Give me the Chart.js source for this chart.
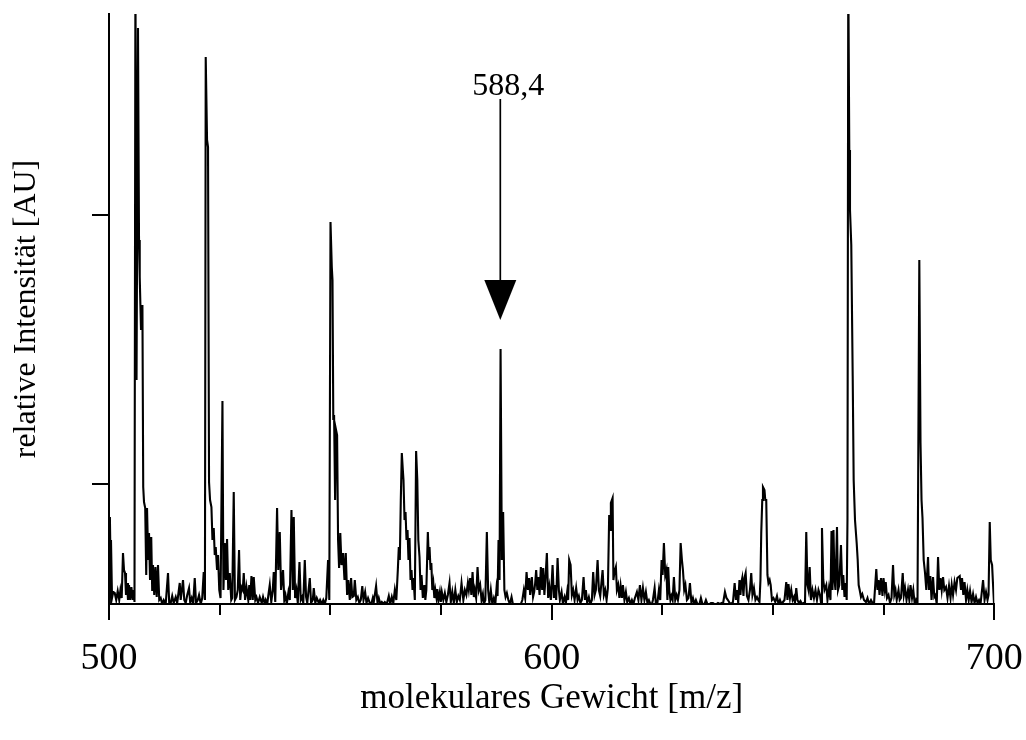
<!DOCTYPE html>
<html><head><meta charset="utf-8">
<script src="https://cdn.jsdelivr.net/npm/chart.js@4/dist/chart.umd.min.js"></script>
<style>html,body{margin:0;padding:0;background:#fff;overflow:hidden}#wrap{width:1026px;height:740px;position:relative}canvas{display:block}</style>
</head><body><div id="wrap"><canvas id="c" width="1026" height="740"></canvas></div>
<script>
// m/z values of the profile vertices
const mz = [
500.05,500.20,500.34,500.45,500.68,500.95,501.29,501.63,501.97,502.31,
502.58,502.87,503.16,503.39,503.62,503.84,504.07,504.29,504.52,504.79,
505.06,505.36,505.58,505.76,505.97,506.22,506.55,506.78,506.94,507.23,
507.55,507.73,507.91,508.18,508.41,508.59,508.86,509.04,509.27,509.54,
509.76,509.94,510.22,510.49,510.78,511.07,511.35,511.68,512.02,512.36,
512.81,513.33,513.61,513.94,514.28,514.62,515.07,515.41,515.98,516.20,
516.72,517.00,517.33,517.67,518.08,518.35,518.69,519.03,519.37,519.66,
520.05,520.34,520.72,521.06,521.40,521.67,521.85,522.15,522.37,522.60,
522.83,523.14,523.37,523.66,523.89,524.11,524.41,524.63,524.91,525.20,
525.63,525.85,526.15,526.42,526.67,526.94,527.28,527.62,527.84,528.18,
528.45,528.79,529.09,529.38,529.65,529.92,530.22,530.44,530.74,531.05,
531.46,531.69,531.91,532.18,532.48,532.70,533.04,533.31,533.67,534.06,
534.51,534.80,535.19,535.41,535.75,535.98,536.32,536.66,537.00,537.22,
537.56,537.97,538.24,538.58,538.87,539.32,539.60,539.87,540.16,540.54,
540.84,541.22,541.52,541.74,542.04,542.35,542.65,543.03,543.32,543.62,
543.89,544.23,544.52,544.79,545.36,545.65,546.04,546.26,546.60,546.94,
547.39,547.69,548.07,548.41,548.75,549.09,549.49,549.77,550.04,550.33,
550.49,550.67,550.85,551.08,551.30,551.53,551.75,551.98,552.25,552.52,
552.88,553.20,553.49,553.79,554.06,554.40,554.69,554.96,555.30,555.53,
555.87,556.21,556.55,556.88,557.22,557.49,557.86,558.17,558.53,558.92,
559.26,559.60,559.82,560.34,560.66,560.95,561.29,561.63,561.97,562.31,
562.76,563.21,563.55,563.89,564.23,564.57,564.91,565.25,565.47,565.70,
565.92,566.15,566.38,566.53,566.76,566.99,567.21,567.44,567.66,567.89,
568.12,568.34,568.57,568.79,569.09,569.38,569.65,569.88,570.15,570.38,
570.60,570.90,571.24,571.46,571.69,572.03,572.25,572.41,572.64,572.82,
573.04,573.27,573.50,573.72,573.99,574.17,574.44,574.74,574.96,575.19,
575.53,575.87,576.21,576.55,576.93,577.22,577.56,577.90,578.24,578.58,
578.92,579.26,579.64,580.05,580.39,580.73,581.07,581.29,581.59,581.86,
582.13,582.42,582.65,582.94,583.26,583.55,583.85,584.16,584.46,584.68,
585.02,585.36,585.65,585.93,586.26,586.60,586.94,587.28,587.55,587.78,
588.00,588.23,588.46,588.75,589.04,589.32,589.59,589.88,590.22,590.56,
590.94,591.24,591.69,592.14,592.59,593.04,593.38,593.72,594.02,594.33,
594.63,594.92,595.15,595.53,595.80,596.05,596.28,596.50,596.77,597.00,
597.27,597.56,597.86,598.08,598.36,598.58,598.92,599.21,599.49,599.82,
600.21,600.50,600.73,601.02,601.34,601.63,601.86,602.24,602.54,602.92,
603.21,603.51,603.73,603.96,604.28,604.57,604.86,605.18,605.54,605.86,
606.15,606.49,606.83,607.21,607.51,607.73,608.03,608.41,608.75,609.09,
609.38,609.70,609.99,610.38,610.67,610.97,611.24,611.51,611.80,612.10,
612.41,612.71,613.00,613.27,613.38,613.77,613.95,614.18,614.51,614.74,
615.03,615.31,615.58,615.87,616.10,616.44,616.77,617.07,617.45,617.79,
618.13,618.47,618.81,619.26,619.60,619.94,620.28,620.62,620.96,621.29,
621.63,621.97,622.31,622.65,622.88,623.26,623.55,623.89,624.23,624.53,
624.84,625.07,625.36,625.66,625.93,626.15,626.33,626.56,626.83,627.06,
627.33,627.62,627.92,628.23,628.53,628.87,629.14,629.43,629.66,629.95,
630.22,630.56,630.90,631.24,631.58,631.92,632.26,632.59,632.93,633.39,
633.72,634.06,634.52,634.85,635.19,635.65,635.98,636.44,636.78,637.23,
637.57,638.02,638.36,638.70,639.15,639.49,639.83,640.21,640.62,640.96,
641.34,641.63,641.86,642.15,642.43,642.65,642.88,643.06,643.33,643.56,
643.83,644.12,644.46,644.80,645.09,645.36,645.70,646.04,646.38,646.67,
646.95,647.17,647.35,647.58,647.74,648.08,648.26,648.48,648.75,648.98,
649.25,649.48,649.77,650.11,650.52,650.90,651.24,651.58,651.92,652.26,
652.60,653.00,653.27,653.50,653.84,654.13,654.45,654.74,654.97,655.26,
655.53,655.87,656.21,656.55,656.89,657.23,657.52,657.79,658.02,658.29,
658.58,658.92,659.26,659.60,659.94,660.28,660.62,660.89,661.07,661.36,
661.64,662.04,662.31,662.65,662.99,663.22,663.44,663.67,663.90,664.12,
664.46,664.69,664.98,665.36,665.66,665.88,666.16,666.43,666.65,666.83,
667.01,667.24,667.40,667.69,668.01,668.23,668.53,668.91,669.14,669.36,
669.59,669.88,670.18,670.56,671.01,671.35,671.69,672.14,672.48,672.82,
673.34,673.61,673.84,674.07,674.40,674.74,674.97,675.26,675.47,675.76,
676.10,676.44,676.78,677.12,677.41,677.68,677.95,678.36,678.63,678.92,
679.31,679.56,679.83,680.17,680.51,680.80,681.07,681.41,681.70,682.02,
682.31,682.65,683.06,683.33,683.56,683.78,684.05,684.35,684.64,685.03,
685.25,685.55,685.82,686.16,686.45,686.72,686.99,687.29,687.58,687.85,
688.12,688.42,688.71,689.09,689.43,689.77,690.11,690.38,690.68,691.02,
691.35,691.65,692.19,692.48,692.71,693.00,693.28,693.61,693.91,694.22,
694.52,694.86,695.20,695.54,695.87,696.21,696.55,696.89,697.46,697.80,
698.13,698.47,698.70,698.97,699.20,699.50,699.72,699.94
];
// relative intensity (arbitrary units) of each vertex
const intensity = [
0,87,44,64,6,12,11,4,13,4,
14,6,51,34,31,9,21,4,19,4,
17,4,14,2,634,224,576,364,327,274,
299,117,102,96,29,96,44,71,24,67,
14,39,9,37,7,39,4,6,0,4,
0,31,0,1,8,1,7,1,21,4,
24,4,1,9,16,1,6,1,26,1,
4,9,0,6,32,4,547,464,457,122,
104,97,64,76,49,57,34,49,14,6,
203,14,61,24,65,14,31,4,6,112,
4,7,14,54,4,17,14,31,4,17,
4,19,4,28,4,27,4,7,1,7,
1,7,0,4,0,8,19,2,14,32,
2,96,34,72,14,34,4,9,0,12,
4,94,14,87,6,14,1,42,4,7,
1,44,7,1,26,1,4,16,1,6,
1,4,0,4,0,6,44,4,382,337,
324,184,189,104,174,169,64,36,71,39,
51,24,51,9,24,4,26,7,8,24,
4,7,1,4,18,4,12,1,6,1,
0,6,2,18,1,6,0,2,0,2,
0,8,0,7,1,14,4,34,57,44,
104,151,134,124,84,92,64,74,44,66,
24,34,14,26,4,153,124,64,47,14,
29,6,19,4,14,72,44,57,34,41,
14,21,6,14,6,15,4,12,2,12,
4,11,2,9,21,2,12,1,14,2,
8,4,21,4,14,9,21,14,26,9,
32,7,14,6,37,14,19,4,10,0,
4,72,14,1,14,0,6,0,16,8,
64,24,255,44,92,14,7,11,4,0,
7,0,0,0,0,0,4,14,6,32,
14,26,9,27,7,12,21,34,14,27,
9,37,14,36,9,24,51,6,17,4,
39,6,19,4,46,14,4,12,1,7,
1,12,4,44,39,9,14,4,16,4,
8,1,4,27,4,14,1,7,0,4,
32,9,14,44,14,8,21,34,9,14,
4,16,89,74,101,106,24,32,37,14,
19,6,18,6,19,4,12,2,6,0,
4,0,6,12,4,19,4,16,4,12,
1,4,0,0,4,16,0,1,14,4,
44,29,61,29,34,4,37,14,4,8,
4,27,4,9,4,14,61,44,34,14,
19,4,6,21,1,6,0,4,0,0,
6,0,0,4,0,0,1,1,0,0,
1,0,1,0,12,6,4,1,0,2,
21,4,14,1,24,9,22,26,8,26,
31,8,4,14,31,9,16,4,7,4,
2,24,71,104,117,114,104,104,29,21,
24,19,4,6,2,8,0,4,0,2,
4,22,4,20,6,14,4,7,1,16,
4,1,3,0,1,0,72,19,14,37,
4,14,6,14,4,14,9,0,76,24,
14,19,4,16,4,73,14,74,24,14,
77,14,19,59,14,29,7,21,4,84,
634,454,394,359,228,124,84,61,44,19,
14,7,10,4,2,6,0,4,1,0,
35,14,24,9,26,8,26,14,22,6,
9,1,6,39,9,14,4,14,4,6,
31,9,16,4,14,4,19,6,14,0,
4,0,344,161,104,86,44,31,14,47,
14,28,4,27,7,9,0,47,14,26,
14,27,14,17,6,18,6,19,9,22,
14,26,28,14,26,9,22,4,14,4,
13,2,10,1,7,1,4,0,24,4,
12,4,9,82,44,39,19,0
];
const xMajorTicks = [500, 600, 700];
const xMinorTicks = [525, 550, 575, 625, 650, 675];
const yTicks = [120, 389];
const xRange = [500, 700];
const yRange = [0, 590];
const xTitle = 'molekulares Gewicht [m/z]';
const yTitle = 'relative Intensität [AU]';
const peakLabel = '588,4';
const peakMz = 588.4;
const arrowFrom = 505, arrowHeadBase = 324, arrowTip = 284, labelAt = 509;

const FONT = "'Liberation Serif', 'Times New Roman', serif";

const n = Math.min(mz.length, intensity.length);
const points = [];
for (let i = 0; i < n; i++) points.push({x: mz[i], y: intensity[i]});

const extras = {
  id: 'extras',
  afterDraw(chart) {
    const {ctx, scales: {x, y}} = chart;
    ctx.save();
    // minor x tick marks (shorter)
    ctx.strokeStyle = '#000';
    ctx.lineWidth = 2;
    xMinorTicks.forEach(v => {
      const p = Math.round(x.getPixelForValue(v));
      ctx.beginPath(); ctx.moveTo(p, x.top); ctx.lineTo(p, x.top + 11); ctx.stroke();
    });
    // annotation arrow
    const px = x.getPixelForValue(peakMz);
    const y0 = y.getPixelForValue(arrowFrom);
    const yb = y.getPixelForValue(arrowHeadBase);
    const yt = y.getPixelForValue(arrowTip);
    ctx.lineWidth = 1.7;
    ctx.beginPath(); ctx.moveTo(px, y0); ctx.lineTo(px, yb); ctx.stroke();
    ctx.fillStyle = '#000';
    ctx.beginPath(); ctx.moveTo(px - 16, yb); ctx.lineTo(px + 16, yb); ctx.lineTo(px, yt); ctx.closePath(); ctx.fill();
    ctx.font = "32px " + FONT;
    ctx.textAlign = 'center';
    ctx.textBaseline = 'alphabetic';
    ctx.fillText(peakLabel, px + 8, y.getPixelForValue(labelAt));
    ctx.restore();
  }
};

new Chart(document.getElementById('c'), {
  type: 'line',
  data: { datasets: [{
    data: points,
    borderColor: '#000',
    borderWidth: 2.1,
    pointRadius: 0,
    tension: 0,
    fill: false
  }]},
  options: {
    responsive: false,
    animation: false,
    events: [],
    layout: { padding: { top: 14, right: 31.7, bottom: 0, left: 0 } },
    plugins: { legend: { display: false }, tooltip: { enabled: false } },
    scales: {
      x: {
        type: 'linear', min: xRange[0], max: xRange[1],
        afterBuildTicks: s => { s.ticks = xMajorTicks.concat(xMinorTicks).sort((a,b)=>a-b).map(v => ({value: v})); },
        afterFit: s => { s.height = 136; s.paddingLeft = 0; s.paddingRight = 0; },
        ticks: {
          autoSkip: false, maxRotation: 0, padding: 16, color: '#000',
          font: { family: FONT, size: 38 },
          callback: v => xMajorTicks.includes(v) ? String(v) : ''
        },
        grid: {
          drawOnChartArea: false, drawTicks: true, tickLength: 16, lineWidth: 2,
          color: c => (c.tick && xMajorTicks.includes(c.tick.value)) ? '#000' : 'rgba(0,0,0,0)'
        },
        border: { display: true, color: '#000', width: 2 },
        title: { display: true, text: xTitle, color: '#000', font: { family: FONT, size: 35 }, padding: { top: 0, bottom: 20 } }
      },
      y: {
        type: 'linear', min: yRange[0], max: yRange[1],
        afterBuildTicks: s => { s.ticks = yTicks.map(v => ({value: v})); },
        afterFit: s => { s.width = 109; s.paddingTop = 0; s.paddingBottom = 0; },
        ticks: { display: false },
        grid: { drawOnChartArea: false, drawTicks: true, tickLength: 17, lineWidth: 2, color: '#000' },
        border: { display: true, color: '#000', width: 2 },
        title: { display: true, text: yTitle, color: '#000', font: { family: FONT, size: 32 }, padding: { top: 7, bottom: 0 } }
      }
    }
  },
  plugins: [extras]
});
</script>
</body></html>
